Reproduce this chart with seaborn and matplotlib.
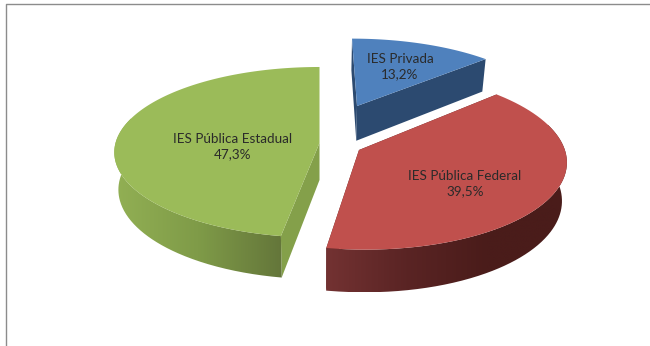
import numpy as np
import matplotlib
matplotlib.use("Agg")
import matplotlib.pyplot as plt
import seaborn as sns
from matplotlib.path import Path
from matplotlib.transforms import Affine2D, Transform

# Slices of the pie, clockwise from twelve o'clock
categories = ["IES Privada", "IES Pública Federal", "IES Pública Estadual"]
shares = [13.2, 39.5, 47.3]

# Camera model of the tilted disc, in canvas pixels
HALF_WIDTH = 204.0
HALF_HEIGHT = 84.3
FORESHORTEN = 0.109
THICKNESS = 37.0
LOWER_INSET = 0.02
AXIS_X = 320.0

# Where each slice's tip lands on the canvas and how far it sits off the disc axis
tips = [(357.0, 106.0), (359.0, 150.0), (319.5, 143.0)]
offsets = [(0.28, 0.60), (0.25, -0.22), (0.0, 0.0)]
width_scales = [1.0, 0.985, 1.0]
label_positions = [(400.0, 67.0), (465.0, 184.0), (233.0, 147.0)]


class SliceProjection(Transform):
    """Maps unit-disc coordinates of one slice onto the canvas in perspective."""

    input_dims = 2
    output_dims = 2
    is_separable = False
    has_inverse = False

    def __init__(self, tip, offset, width_scale):
        super().__init__()
        self.tip = tip
        self.offset = offset
        self.half_width = HALF_WIDTH * width_scale

    def project(self, xy, lowered=False):
        xy = np.asarray(xy, dtype=float)
        sx, sy = self.offset
        wx = xy[:, 0] + sx
        wy = xy[:, 1] + sy
        w = 1 + FORESHORTEN * wy
        w0 = 1 + FORESHORTEN * sy
        x = self.tip[0] + self.half_width * (wx / w - sx / w0)
        y = self.tip[1] - HALF_HEIGHT * (wy / w - sy / w0)
        if lowered:
            x = x + (AXIS_X - x) * LOWER_INSET
            y = y + THICKNESS / w
        return np.column_stack([x, y])

    def transform_non_affine(self, values):
        return self.project(values)

    def transform_path_non_affine(self, path):
        # Flatten the arcs finely before bending them
        scaled = Affine2D().scale(800).transform_path(path)
        outline = scaled.to_polygons(closed_only=False)[0] / 800
        return Path(self.project(outline))


sns.set_theme(style="white")
plt.rcParams["font.family"] = ["Lato", "DejaVu Sans"]

face_colors = sns.color_palette(["#4F81BD", "#C0504D", "#9BBB59"])
cut_colors = ["#2C4A70", "#5A2323", "#84A04A"]
rim_maps = [
    sns.blend_palette(["#2C4A70", "#24405F"], as_cmap=True),
    sns.blend_palette(["#733232", "#5A2424", "#4A1C1A", "#4A1C1A"], as_cmap=True),
    sns.blend_palette(["#92B054", "#7F9B48", "#64763A"], as_cmap=True),
]

fig = plt.figure(figsize=(6.5, 3.46), dpi=100, facecolor="white")
ax = fig.add_axes([0, 0, 1, 1])

wedges, _ = ax.pie(
    shares,
    colors=face_colors,
    startangle=90,
    counterclock=False,
    radius=1,
    wedgeprops={"linewidth": 0},
)
ax.set_aspect("auto")
ax.set_xlim(0, 650)
ax.set_ylim(346, 0)
ax.set_axis_off()

shading = np.linspace(0, 1, 256)[None, :]

for i, wedge in enumerate(wedges):
    proj = SliceProjection(tips[i], offsets[i], width_scales[i])
    wedge.set_transform(proj + ax.transData)
    wedge.set_clip_on(False)
    wedge.set_zorder(3)

    start, stop = np.radians([wedge.theta1, wedge.theta2])

    # Flat cut faces running from the tip out to both ends of the arc
    for angle in (start, stop):
        edge = np.array([[0.0, 0.0], [np.cos(angle), np.sin(angle)]])
        top = proj.project(edge)
        low = proj.project(edge, lowered=True)
        ax.fill(
            [top[0, 0], top[1, 0], low[1, 0], low[0, 0]],
            [top[0, 1], top[1, 1], low[1, 1], low[0, 1]],
            color=cut_colors[i],
            linewidth=0,
            zorder=1,
        )

    # Curved rim, running a little past the sides so the top face covers its start
    angles = np.linspace(start, stop, 400)
    angles = angles[np.sin(angles) <= 0.3]
    if angles.size > 1:
        ring = np.column_stack([np.cos(angles), np.sin(angles)])
        top = proj.project(ring)
        low = proj.project(ring, lowered=True)
        outline = np.vstack([top, low[::-1], top[:1]])
        x0, y0 = outline.min(axis=0)
        x1, y1 = outline.max(axis=0)
        rim = ax.imshow(
            shading,
            cmap=rim_maps[i],
            extent=(x0, x1, y1, y0),
            aspect="auto",
            interpolation="bilinear",
            zorder=2,
        )
        rim.set_clip_path(Path(outline), transform=ax.transData)

        # Straight silhouette between the outermost top and bottom points of the rim
        on_left = top[:, 0].mean() < AXIS_X
        pick = np.argmin if on_left else np.argmax
        upper, lower = pick(top[:, 0]), pick(low[:, 0])
        ax.fill(
            [top[upper, 0], low[lower, 0], top[lower, 0]],
            [top[upper, 1], low[lower, 1], top[lower, 1]],
            color=rim_maps[i](0.0 if on_left else 1.0),
            linewidth=0,
            zorder=2,
        )

    text = f"{categories[i]}\n{shares[i]:.1f}%".replace(".", ",")
    ax.text(
        *label_positions[i],
        text,
        ha="center",
        va="center",
        fontsize=9.7,
        color="#2A2A2A",
        linespacing=1.32,
        zorder=4,
    )

ax.set_xlim(0, 650)
ax.set_ylim(346, 0)

# Chart frame: only its top and left sides fall on the canvas
ax.plot([5.5, 5.5, 650], [346, 3.5, 3.5], color="#8C8C8C", linewidth=1.0, zorder=0, clip_on=False)

fig.savefig("out.png", dpi=100, facecolor="white")
